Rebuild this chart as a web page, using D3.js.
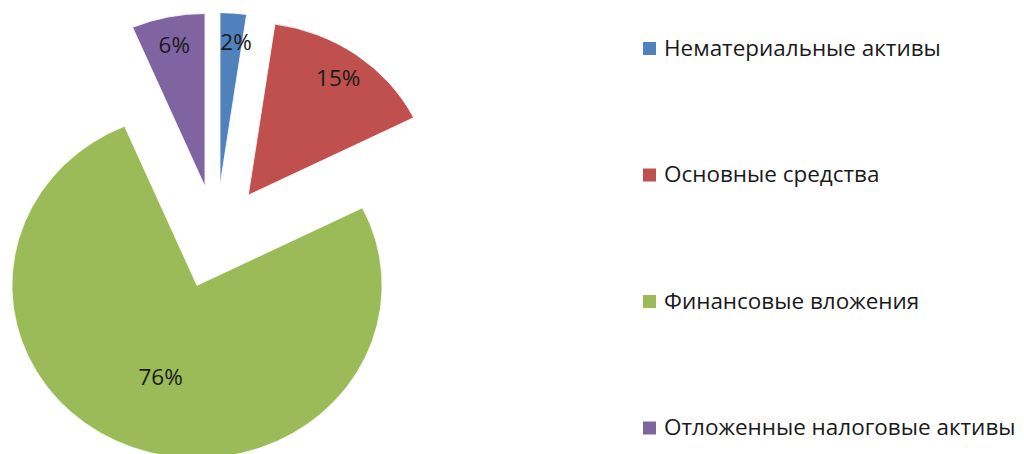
<!DOCTYPE html>
<html>
<head>
<meta charset="utf-8">
<script src="https://cdn.jsdelivr.net/npm/d3@7"></script>
<style>
  body { margin: 0; background: #fff; }
  svg { display: block; }
  text { font-family: "Open Sans", sans-serif; fill: #1a1a1a; }
</style>
</head>
<body>
<div id="chart"></div>
<script>
var categories = ["Нематериальные активы", "Основные средства", "Финансовые вложения", "Отложенные налоговые активы"];
var values = [2.3, 15.3, 76.0, 6.4];
var labels = ["2%", "15%", "76%", "6%"];
var colors = ["#4f81bd", "#c0504d", "#9bbb59", "#8064a2"];

var width = 1024, height = 454;
var cx = 216, cy = 237;
var radius = 173, explode = 51.5, stretch = 1.07;

var svg = d3.select("#chart")
  .append("svg")
  .attr("width", width)
  .attr("height", height);

var pie = d3.pie().sort(null).value(function(d) { return d; });
var arcs = pie(values);

var arc = d3.arc().innerRadius(0).outerRadius(radius);

// the whole picture is a little wider than tall, so scale x
var g = svg.append("g")
  .attr("transform", "translate(" + cx + "," + cy + ") scale(" + stretch + ",1)");

function mid(d) { return (d.startAngle + d.endAngle) / 2; }

g.selectAll("path")
  .data(arcs)
  .enter().append("path")
  .attr("d", arc)
  .attr("fill", function(d, i) { return colors[i]; })
  .attr("stroke", "#fff")
  .attr("stroke-width", 0.8)
  .attr("transform", function(d) {
    var a = mid(d);
    return "translate(" + Math.sin(a) * explode + "," + (-Math.cos(a) * explode) + ")";
  });

// labels inside the slices, big slice closer to its apex
function labelDist(d) { return explode + (d.value > 50 ? 0.57 : 0.83) * radius; }

svg.append("g")
  .selectAll("g")
  .data(arcs)
  .enter().append("g")
  .attr("transform", function(d) {
    var x = cx + stretch * Math.sin(mid(d)) * labelDist(d) + (d.value < 3 ? 5 : 0),
        y = cy - Math.cos(mid(d)) * labelDist(d);
    return "translate(" + x + "," + y + ") scale(" + stretch + ",1)";
  })
  .append("text")
  .attr("text-anchor", "middle")
  .attr("dy", "0.36em")
  .attr("font-size", 21)
  .text(function(d, i) { return labels[i]; });

var legend = svg.append("g")
  .attr("transform", "translate(643,48)")
  .selectAll("g")
  .data(categories)
  .enter().append("g")
  .attr("transform", function(d, i) { return "translate(0," + i * 126.5 + ")"; });

legend.append("rect")
  .attr("x", 0)
  .attr("y", -6)
  .attr("width", 13)
  .attr("height", 13)
  .attr("fill", function(d, i) { return colors[i]; });

legend.append("text")
  .attr("transform", "translate(21,0) scale(" + stretch + ",1)")
  .attr("dy", "0.36em")
  .attr("font-size", 21)
  .text(function(d) { return d; });
</script>
</body>
</html>
